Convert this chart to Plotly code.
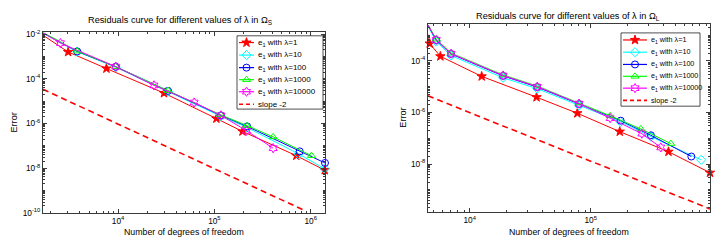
import numpy as np
import plotly.graph_objects as go

# ---------------- data : left panel (Omega_S) ----------------
dof_S_l1 = [1660, 3030, 7570, 30000, 105000, 196000, 710000, 1400000]
err_S_l1 = [9.0e-3, 1.6e-3, 2.9e-4, 2.3e-5, 1.66e-6, 4.4e-7, 3.6e-8, 8.1e-9]
dof_S_l10 = [1660, 3760, 9470, 33000, 117000, 219000, 750000, 1390000]
err_S_l10 = [1.12e-2, 1.65e-3, 3.3e-4, 2.7e-5, 2.1e-6, 6.6e-7, 4.3e-8, 9.5e-9]
dof_S_l100 = [1660, 3760, 9470, 33000, 117000, 219000, 770000, 1410000]
err_S_l100 = [1.15e-2, 1.7e-3, 3.5e-4, 2.9e-5, 2.3e-6, 7.4e-7, 5.6e-8, 1.7e-8]
dof_S_l1000 = [1660, 3760, 9470, 33000, 117000, 219000, 408000, 1020000]
err_S_l1000 = [1.2e-2, 1.75e-3, 3.5e-4, 3.0e-5, 2.4e-6, 8.0e-7, 2.5e-7, 3.6e-8]
dof_S_l10000 = [1660, 2520, 9470, 23600, 61700, 117000, 216000, 408000]
err_S_l10000 = [1.15e-2, 4.0e-3, 3.5e-4, 5.1e-5, 8.7e-6, 2.3e-6, 4.7e-7, 7.8e-8]
slope_S_x = [1660, 900000]
slope_S_y = [3.4e-5, 1.16e-10]

# ---------------- data : right panel (Omega_L) ----------------
dof_L_l1 = [4520, 4670, 5720, 12560, 35700, 77600, 174000, 440000, 970000]
err_L_l1 = [1.05e-3, 4.7e-4, 1.5e-4, 2.5e-5, 3.9e-6, 9.3e-7, 1.8e-7, 3.0e-8, 4.6e-9]
dof_L_l10 = [4520, 5290, 7020, 18900, 36200, 80200, 177000, 315000, 820000]
err_L_l10 = [2.2e-3, 5.6e-4, 1.6e-4, 2.2e-5, 8.3e-6, 1.85e-6, 4.3e-7, 1.15e-7, 1.45e-8]
dof_L_l100 = [4520, 5290, 7020, 18900, 36200, 80200, 177000, 315000, 680000]
err_L_l100 = [2.4e-3, 6.4e-4, 1.85e-4, 2.6e-5, 9.6e-6, 2.1e-6, 4.8e-7, 1.3e-7, 1.95e-8]
dof_L_l1000 = [4520, 5290, 7020, 18900, 36200, 80200, 145000, 260000, 460000]
err_L_l1000 = [2.55e-3, 6.9e-4, 2.0e-4, 2.85e-5, 1.05e-5, 2.35e-6, 7.4e-7, 2.3e-7, 6.2e-8]
dof_L_l10000 = [4520, 5290, 7020, 18900, 36200, 80200, 145000, 265000, 380000]
err_L_l10000 = [2.45e-3, 6.5e-4, 1.9e-4, 2.7e-5, 1.0e-5, 2.2e-6, 6.0e-7, 1.5e-7, 4.4e-8]
slope_L_x = [4520, 970000]
slope_L_y = [4.4e-6, 1.8e-10]

series_names = ["e<sub>1</sub> with λ=1", "e<sub>1</sub> with λ=10", "e<sub>1</sub> with λ=100",
                "e<sub>1</sub> with λ=1000", "e<sub>1</sub> with λ=10000", "slope -2"]

x_tick_vals_S = [1e4, 1e5, 1e6]
x_tick_text_S = ["10<sup>4</sup>", "10<sup>5</sup>", "10<sup>6</sup>"]
x_tick_vals_L = [1e4, 1e5]
x_tick_text_L = ["10<sup>4</sup>", "10<sup>5</sup>"]
y_tick_vals_S = [1e-10, 1e-8, 1e-6, 1e-4, 1e-2]
y_tick_text_S = ["10<sup>-10</sup>", "10<sup>-8</sup>", "10<sup>-6</sup>", "10<sup>-4</sup>", "10<sup>-2</sup>"]
y_tick_vals_L = [1e-8, 1e-6, 1e-4]
y_tick_text_L = ["10<sup>-8</sup>", "10<sup>-6</sup>", "10<sup>-4</sup>"]

titles = ["Residuals curve for different values of λ in Ω<sub>S</sub>",
          "Residuals curve for different values of λ in Ω<sub>L</sub>"]
x_title = "Number of degrees of freedom"
y_title = "Error"

# ---------------- style ----------------
colors = ["#ff0000", "#00ffff", "#0000ff", "#00ff00", "#ff00ff", "#ff0000"]
symbols = ["star", "diamond-open", "circle-open", "triangle-up-open", "hexagram-open", None]
msizes = [7, 7, 7, 7, 7, 0]
FONT = "Liberation Sans, Arial, sans-serif"
W, H = 722, 250
AX = "#3a3a3a"

fig = go.Figure()

panels = [
    (list(zip([dof_S_l1, dof_S_l10, dof_S_l100, dof_S_l1000, dof_S_l10000],
              [err_S_l1, err_S_l10, err_S_l100, err_S_l1000, err_S_l10000])), (slope_S_x, slope_S_y), "x", "y"),
    (list(zip([dof_L_l1, dof_L_l10, dof_L_l100, dof_L_l1000, dof_L_l10000],
              [err_L_l1, err_L_l10, err_L_l100, err_L_l1000, err_L_l10000])), (slope_L_x, slope_L_y), "x2", "y2"),
]

for series, slope, xa, ya in panels:
    fig.add_trace(go.Scatter(x=slope[0], y=slope[1], mode="lines", xaxis=xa, yaxis=ya,
                             line=dict(color="#ff0000", width=1.6, dash="6px,4px"),
                             showlegend=False, cliponaxis=False))
    for i, (xs, ys) in enumerate(series):
        fig.add_trace(go.Scatter(x=xs, y=ys, mode="lines+markers", xaxis=xa, yaxis=ya,
                                 line=dict(color=colors[i], width=1),
                                 marker=dict(symbol=symbols[i], size=msizes[i], color=colors[i],
                                             line=dict(color=colors[i], width=1)),
                                 showlegend=False, cliponaxis=False))

# ---------------- legends (drawn on a full-figure pixel overlay) ----------------
legends = [
    dict(box=(237, 323, 33, 109), rows=[40, 53, 66, 78.5, 91, 104], line=(239, 254), tx=256, fs=8),
    dict(box=(621, 700, 30, 106), rows=[37.3, 50, 62.7, 75, 87.3, 100], line=(623, 647), tx=649, fs=7.2),
]
for lg in legends:
    x0, x1, y0, y1 = lg["box"]
    fig.add_trace(go.Scatter(x=[x0, x1, x1, x0, x0], y=[y0, y0, y1, y1, y0], mode="lines",
                             fill="toself", fillcolor="white", line=dict(color="#222", width=0.8),
                             xaxis="x3", yaxis="y3", showlegend=False, hoverinfo="skip"))
    la, lb = lg["line"]
    for i, ry in enumerate(lg["rows"]):
        dash = "4px,3px" if i == 5 else "solid"
        fig.add_trace(go.Scatter(x=[la, lb], y=[ry, ry], mode="lines", xaxis="x3", yaxis="y3",
                                 line=dict(color=colors[i], width=1.6 if i == 5 else 1.2, dash=dash),
                                 showlegend=False, hoverinfo="skip"))
        if symbols[i]:
            fig.add_trace(go.Scatter(x=[(la + lb) / 2], y=[ry], mode="markers", xaxis="x3", yaxis="y3",
                                     marker=dict(symbol=symbols[i], size=msizes[i], color=colors[i],
                                                 line=dict(color=colors[i], width=1)),
                                     showlegend=False, hoverinfo="skip"))
        fig.add_annotation(x=lg["tx"], y=ry, xref="x3", yref="y3", text=series_names[i],
                           showarrow=False, xanchor="left", yanchor="middle",
                           font=dict(family=FONT, size=lg["fs"], color="black"))

# ---------------- titles ----------------
for txt, (cx, cy) in zip(titles, [(180, 17), (568, 13)]):
    fig.add_annotation(x=cx, y=cy, xref="x3", yref="y3", text=txt, showarrow=False,
                       xanchor="center", yanchor="middle", font=dict(family=FONT, size=9.2, color="black"))
for cx in [184, 569]:
    fig.add_annotation(x=cx, y=237, xref="x3", yref="y3", text=x_title, showarrow=False,
                       xanchor="center", yanchor="middle", font=dict(family=FONT, size=8.8, color="black"))
for cx, cy in [(14, 123), (403, 118)]:
    fig.add_annotation(x=cx, y=cy, xref="x3", yref="y3", text=y_title, showarrow=False, textangle=-90,
                       xanchor="center", yanchor="middle", font=dict(family=FONT, size=9.2, color="black"))

def minors(lo, hi):
    vals = []
    for d in range(lo, hi):
        vals += [k * 10.0 ** d for k in range(1, 10)]
    return vals

def axis(domain, rng, tv, tt, mv):
    return dict(type="log", domain=domain, range=rng, tickmode="array", tickvals=tv, ticktext=tt,
                ticks="inside", ticklen=4, tickwidth=0.8, tickcolor=AX,
                showline=True, linecolor=AX, linewidth=1, mirror="allticks",
                showgrid=False, zeroline=False,
                minor=dict(tickmode="array", tickvals=mv, ticks="inside", ticklen=2, tickwidth=0.6,
                           tickcolor=AX, showgrid=False),
                tickfont=dict(family=FONT, size=8.3, color="black"), fixedrange=True)

fig.update_layout(
    width=W, height=H, margin=dict(l=0, r=0, t=0, b=0),
    paper_bgcolor="white", plot_bgcolor="rgba(0,0,0,0)",
    showlegend=False,
    xaxis=axis([43 / W, 325 / W], [np.log10(1660), np.log10(1410000)], x_tick_vals_S, x_tick_text_S, minors(3, 7)),
    yaxis=axis([1 - 216.5 / H, 1 - 29.5 / H], [-10, -1.92], y_tick_vals_S, y_tick_text_S, minors(-10, -1)),
    xaxis2=axis([428 / W, 710 / W], [np.log10(4520), np.log10(970000)], x_tick_vals_L, x_tick_text_L, minors(3, 6)),
    yaxis2=axis([1 - 216 / H, 1 - 21 / H], [-9.87, -2.58], y_tick_vals_L, y_tick_text_L, minors(-10, -2)),
    xaxis3=dict(domain=[0, 1], range=[0, W], visible=False, fixedrange=True),
    yaxis3=dict(domain=[0, 1], range=[H, 0], visible=False, fixedrange=True),
)
fig.layout.xaxis.anchor = "y"
fig.layout.yaxis.anchor = "x"
fig.layout.xaxis2.anchor = "y2"
fig.layout.yaxis2.anchor = "x2"
fig.layout.xaxis3.anchor = "y3"
fig.layout.yaxis3.anchor = "x3"

fig.write_html("out.html", config={"displayModeBar": False},
               post_script="document.body.style.margin='0';")
